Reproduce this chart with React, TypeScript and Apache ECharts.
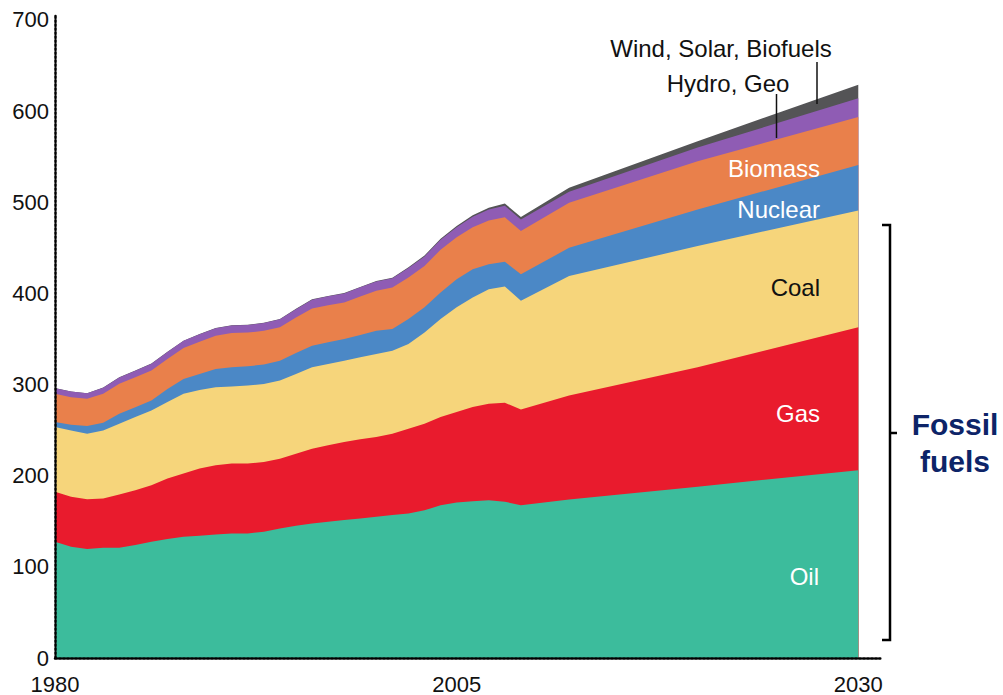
import React, { useEffect, useRef } from "react";
import * as echarts from "echarts";

// Years (historical 1980-2009, projections 2012, 2020, 2030)
const years = [
  1980, 1981, 1982, 1983, 1984, 1985, 1986, 1987, 1988, 1989,
  1990, 1991, 1992, 1993, 1994, 1995, 1996, 1997, 1998, 1999,
  2000, 2001, 2002, 2003, 2004, 2005, 2006, 2007, 2008, 2009,
  2012, 2020, 2030,
];

const oil = [
  127.6, 122, 119.6, 121, 121, 124, 127.6, 130.5, 133, 134,
  135.6, 136.7, 136.7, 138.6, 142, 145, 147.7, 149.5, 151.3, 153,
  155, 156.8, 158.6, 162, 167.7, 170.6, 172, 173, 171.4, 167.7,
  174, 188, 206,
];
const gas = [
  54.7, 54.9, 54.6, 54, 58.4, 60, 62, 66.4, 69.3, 73.8,
  75.8, 76.6, 76.6, 76.4, 76.7, 79, 82, 83.8, 85.7, 86.9,
  87.5, 89.2, 93, 95, 96.7, 99.2, 103.3, 106, 108.6, 105,
  114, 131, 157,
];
const coal = [
  71.1, 72.8, 71.8, 74.7, 77.6, 80.4, 82, 83.9, 87.5, 86.2,
  85.6, 84.7, 85.7, 85.5, 85.7, 87.7, 89.3, 89.3, 89, 90.1,
  91.1, 91, 92.9, 100, 107.6, 114.9, 120.3, 125.7, 127.6, 119.3,
  131, 133, 128,
];
const nuclear = [
  5.5, 6.3, 8.5, 8.3, 11, 10.6, 10.9, 14.2, 16.2, 17.7,
  20, 21, 21, 21.5, 21.6, 23, 23.7, 23.8, 24, 24.4,
  25.4, 24, 27.5, 27.7, 29, 30.9, 30.9, 27.3, 27, 29,
  31, 40, 50,
];
const biomass = [
  30.9, 30, 29.9, 31.8, 32.8, 33, 32.8, 33, 34, 35.3,
  36.6, 37.6, 37, 37, 36.8, 39, 40.8, 40.6, 40, 42.3,
  43.8, 45.5, 45.5, 45.3, 47, 46, 46, 48, 49, 47.5,
  49.5, 53, 52.5,
];
const hydroGeo = [
  6.2, 6.3, 6, 6.8, 7, 7.2, 7.6, 7.8, 8, 8.2,
  8.2, 8.3, 8.4, 8.6, 8.8, 9, 9.6, 9.8, 10, 10,
  10.2, 10.2, 10.4, 10.6, 10.8, 11, 11.5, 12, 12.5, 12.5,
  12, 15, 20.5,
];
const windSolarBiofuels = [
  0.2, 0.2, 0.2, 0.2, 0.2, 0.2, 0.2, 0.2, 0.2, 0.2,
  0.3, 0.3, 0.3, 0.3, 0.3, 0.4, 0.4, 0.4, 0.4, 0.4,
  0.5, 0.6, 0.7, 0.9, 1.1, 1.4, 1.7, 2.1, 2.5, 2.9,
  4.5, 7, 15,
];

const xTickYears = ["1980", "2005", "2030"];

// bottom to top
const seriesDefs = [
  { name: "Oil", values: oil, color: "#3cbc9c" },
  { name: "Gas", values: gas, color: "#e91b2d" },
  { name: "Coal", values: coal, color: "#f6d57b" },
  { name: "Nuclear", values: nuclear, color: "#4b88c6" },
  { name: "Biomass", values: biomass, color: "#e9804b" },
  { name: "Hydro, Geo", values: hydroGeo, color: "#8f5cb4" },
  { name: "Wind, Solar, Biofuels", values: windSolarBiofuels, color: "#545456" },
];

const FONT = '"Liberation Sans", Arial, Helvetica, sans-serif';

function txt(text: string, x: number, y: number, fill: string, size = 24, weight = "normal", align = "right") {
  return {
    type: "text",
    x,
    y,
    z: 100,
    style: {
      text,
      fill,
      fontSize: size,
      fontFamily: FONT,
      fontWeight: weight,
      align,
      verticalAlign: "middle",
      textAlign: align,
      textVerticalAlign: "middle",
    },
  };
}

export default function App() {
  const ref = useRef<HTMLDivElement>(null);

  useEffect(() => {
    if (!ref.current) return;
    const chart = echarts.init(ref.current, null, { renderer: "svg" });

    const dotted = { color: "#000", width: 2.5, type: [2, 2] as any };

    // cumulative tops (stack computed here because both axes are value axes)
    const cumulative: number[][] = [];
    seriesDefs.forEach((s, k) => {
      cumulative.push(s.values.map((v, i) => (k === 0 ? 0 : cumulative[k - 1][i]) + v));
    });

    // draw top layer first so lower layers overlay it
    const series = seriesDefs
      .map((s, k) => ({
        name: s.name,
        type: "line",
        symbol: "none",
        silent: true,
        lineStyle: { width: 0 },
        itemStyle: { color: s.color },
        areaStyle: { color: s.color, opacity: 1, origin: "start" },
        data: years.map((y, i) => [y, cumulative[k][i]]),
      }))
      .reverse();

    const option: any = {
      animation: false,
      backgroundColor: "#fff",
      grid: { left: 55, right: 122.7, top: 14.5, bottom: 35, containLabel: false },
      xAxis: {
        type: "value",
        min: 1980,
        max: 2031.37,
        interval: 25,
        z: 10,
        axisLine: { show: true, lineStyle: dotted },
        axisTick: { show: false },
        splitLine: { show: false },
        axisLabel: {
          showMaxLabel: false,
          fontSize: 22,
          fontFamily: FONT,
          color: "#111",
          margin: 15,
          formatter: (v: number) => (xTickYears.includes(String(v)) ? String(v) : ""),
        },
      },
      yAxis: {
        type: "value",
        min: 0,
        max: 706,
        interval: 100,
        z: 10,
        axisLine: { show: true, lineStyle: dotted },
        axisTick: { show: false },
        splitLine: { show: false },
        axisLabel: {
          showMaxLabel: false,
          fontSize: 22,
          fontFamily: FONT,
          color: "#111",
          margin: 6,
        },
      },
      series,
      graphic: [
        txt("Wind, Solar, Biofuels", 721, 48, "#111", 24, "normal", "center"),
        txt("Hydro, Geo", 728, 83, "#111", 24, "normal", "center"),
        { type: "line", z: 100, shape: { x1: 817, y1: 62, x2: 817, y2: 104 }, style: { stroke: "#111", lineWidth: 1.5 } },
        { type: "line", z: 100, shape: { x1: 776.5, y1: 94, x2: 776.5, y2: 138 }, style: { stroke: "#111", lineWidth: 1.5 } },
        txt("Biomass", 820, 168, "#fff"),
        txt("Nuclear", 820, 209, "#fff"),
        txt("Coal", 820, 287, "#111"),
        txt("Gas", 820, 413, "#fff"),
        txt("Oil", 819, 576, "#fff"),
        {
          type: "polyline",
          z: 100,
          shape: { points: [[882, 225], [890, 225], [890, 640], [882, 640]] },
          style: { stroke: "#000", lineWidth: 2.5, fill: null },
        },
        { type: "line", z: 100, shape: { x1: 890, y1: 433, x2: 897, y2: 433 }, style: { stroke: "#000", lineWidth: 2.5 } },
        txt("Fossil", 955, 424, "#0d2468", 30, "bold", "center"),
        txt("fuels", 955, 461, "#0d2468", 30, "bold", "center"),
      ],
    };

    chart.setOption(option);
    return () => chart.dispose();
  }, []);

  return (
    <div
      ref={ref}
      style={{ position: "fixed", left: 0, top: 0, width: 1003, height: 695, background: "#fff" }}
    />
  );
}
